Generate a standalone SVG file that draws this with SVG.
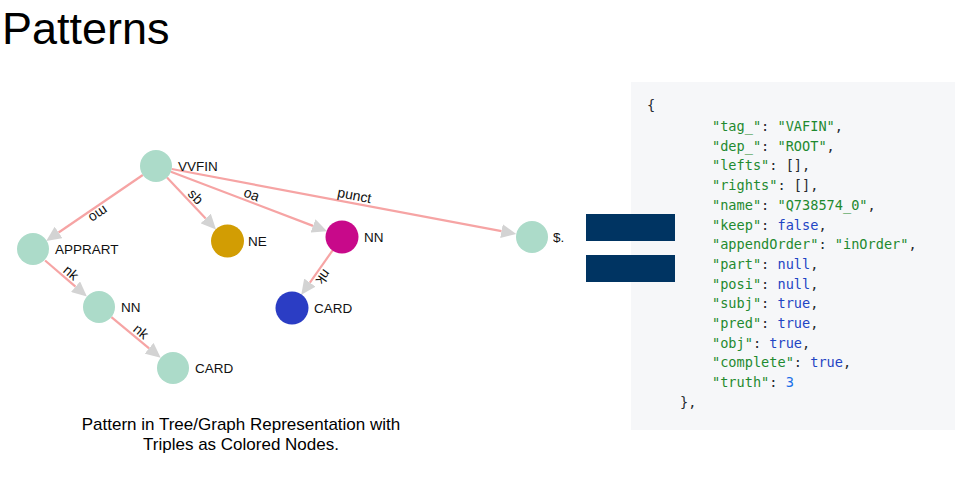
<svg xmlns="http://www.w3.org/2000/svg" width="977" height="477" viewBox="0 0 977 477">
<defs>
<style>
.edge{stroke:#f6a4a4;stroke-width:2.2;fill:none}
.elabel{font-family:"Liberation Sans",Arial,sans-serif;font-size:14px;fill:#111;text-anchor:middle}
.nlabel{font-family:"Liberation Sans",Arial,sans-serif;font-size:13.5px;fill:#111}
.code{font-family:"DejaVu Sans Mono","Liberation Mono",monospace;font-size:13.6px;fill:#24292e}
.k{fill:#1f8a30}
.b{fill:#1f45c4}
.n{fill:#1a6fe8}
.g{fill:#acdbc9}
</style>
<marker id="arr" viewBox="0 0 15 14" refX="0" refY="7" markerWidth="15" markerHeight="14" markerUnits="userSpaceOnUse" orient="auto">
<path d="M0,0 L15,7 L0,14 z" fill="#d3d3d3"/>
</marker>
</defs>
<rect width="977" height="477" fill="#ffffff"/>
<text x="2" y="44" font-family="'Liberation Sans',Arial,sans-serif" font-size="45" fill="#000">Patterns</text>

<g id="connectors">
<line class="edge" x1="142.8" y1="175" x2="58.6" y2="232.5" marker-end="url(#arr)"/>
<line class="edge" x1="167" y1="177.6" x2="205.7" y2="218.5" marker-end="url(#arr)"/>
<line class="edge" x1="170.9" y1="171.7" x2="313" y2="225.9" marker-end="url(#arr)"/>
<line class="edge" x1="171.7" y1="169" x2="501.5" y2="231.2" marker-end="url(#arr)"/>
<line class="edge" x1="45.1" y1="260.5" x2="75.5" y2="286.7" marker-end="url(#arr)"/>
<line class="edge" x1="111.4" y1="317.2" x2="149.1" y2="348.3" marker-end="url(#arr)"/>
<line class="edge" x1="332.8" y1="250.1" x2="309.9" y2="282.6" marker-end="url(#arr)"/>
<text class="elabel" transform="translate(94,208) rotate(145.7)" dy="-3">mo</text>
<text class="elabel" transform="translate(190,202) rotate(46.6)" dy="-3">sb</text>
<text class="elabel" transform="translate(249,201.5) rotate(20.9)" dy="-3">oa</text>
<text class="elabel" transform="translate(353,203) rotate(10.7)" dy="-3">punct</text>
<text class="elabel" transform="translate(66,278.5) rotate(40.8)" dy="-3">nk</text>
<text class="elabel" transform="translate(136,337.5) rotate(39.5)" dy="-3">nk</text>
<text class="elabel" transform="translate(317,272.5) rotate(125.2)" dy="-3">nk</text>
</g>

<g id="node-vvfin"><circle class="g" cx="156" cy="166" r="16"/><text class="nlabel" x="178" y="170.5">VVFIN</text></g>
<g id="node-apprart"><circle class="g" cx="33" cy="249" r="16"/><text class="nlabel" x="55" y="253.5">APPRART</text></g>
<g id="node-ne"><circle cx="227.5" cy="241" r="16.5" fill="#d29d03"/><text class="nlabel" x="248" y="245.5">NE</text></g>
<g id="node-nn-mag"><circle cx="342" cy="237" r="16.5" fill="#c8098a"/><text class="nlabel" x="364" y="241.5">NN</text></g>
<g id="node-dollar"><circle class="g" cx="532" cy="237" r="16"/><text class="nlabel" x="553" y="241.5">$.</text></g>
<g id="node-nn"><circle class="g" cx="99" cy="307" r="16"/><text class="nlabel" x="121" y="311.5">NN</text></g>
<g id="node-card-blue"><circle cx="292" cy="308" r="16.5" fill="#2b3dc4"/><text class="nlabel" x="314" y="312.5">CARD</text></g>
<g id="node-card"><circle class="g" cx="173" cy="368" r="16"/><text class="nlabel" x="195" y="372.5">CARD</text></g>

<g id="caption" font-family="'Liberation Sans',Arial,sans-serif" font-size="17" fill="#000" text-anchor="middle">
<text x="241" y="430">Pattern in Tree/Graph Representation with</text>
<text x="241" y="450">Triples as Colored Nodes.</text>
</g>

<g id="code-block">
<rect x="631" y="82" width="324" height="348" fill="#f6f7f9"/>
<text class="code" x="647" y="110">{</text>
<text class="code" x="712" y="131"><tspan class="k">"tag_"</tspan>: <tspan class="k">"VAFIN"</tspan>,</text>
<text class="code" x="712" y="150.7"><tspan class="k">"dep_"</tspan>: <tspan class="k">"ROOT"</tspan>,</text>
<text class="code" x="712" y="170.4"><tspan class="k">"lefts"</tspan>: [],</text>
<text class="code" x="712" y="190.1"><tspan class="k">"rights"</tspan>: [],</text>
<text class="code" x="712" y="209.8"><tspan class="k">"name"</tspan>: <tspan class="k">"Q738574_0"</tspan>,</text>
<text class="code" x="712" y="229.5"><tspan class="k">"keep"</tspan>: <tspan class="b">false</tspan>,</text>
<text class="code" x="712" y="249.2"><tspan class="k">"appendOrder"</tspan>: <tspan class="k">"inOrder"</tspan>,</text>
<text class="code" x="712" y="268.9"><tspan class="k">"part"</tspan>: <tspan class="b">null</tspan>,</text>
<text class="code" x="712" y="288.6"><tspan class="k">"posi"</tspan>: <tspan class="b">null</tspan>,</text>
<text class="code" x="712" y="308.3"><tspan class="k">"subj"</tspan>: <tspan class="b">true</tspan>,</text>
<text class="code" x="712" y="328"><tspan class="k">"pred"</tspan>: <tspan class="b">true</tspan>,</text>
<text class="code" x="712" y="347.7"><tspan class="k">"obj"</tspan>: <tspan class="b">true</tspan>,</text>
<text class="code" x="712" y="367.4"><tspan class="k">"complete"</tspan>: <tspan class="b">true</tspan>,</text>
<text class="code" x="712" y="387.1"><tspan class="k">"truth"</tspan>: <tspan class="n">3</tspan></text>
<text class="code" x="680" y="406.8">},</text>
</g>

<g id="equals-sign" fill="#003462">
<rect x="586" y="214" width="89" height="27"/>
<rect x="586" y="255" width="89" height="27"/>
</g>
</svg>
